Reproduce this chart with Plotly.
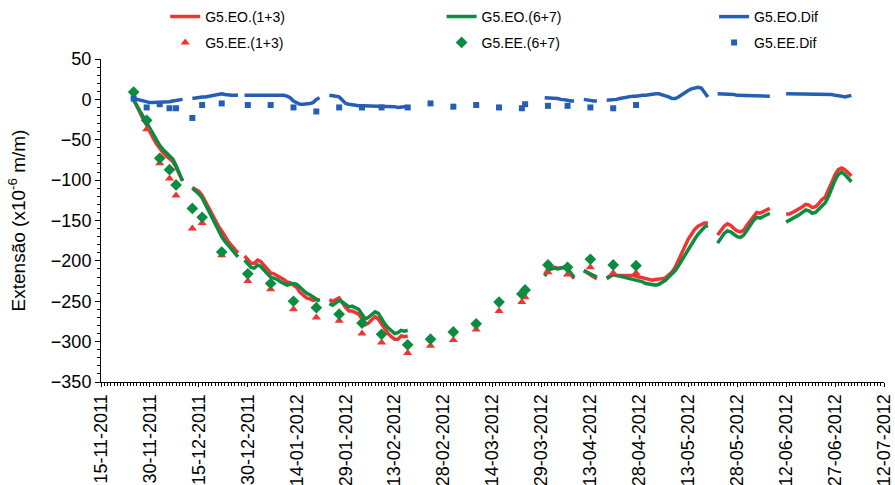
import pandas as pd
import plotly.graph_objects as go

# ---- continuous readings (EO), one value per day, segments separated by gaps ----
seg_start = ["2011-11-25", "2011-12-13", "2011-12-29", "2012-01-24", "2012-03-30",
             "2012-04-11", "2012-04-18", "2012-05-22", "2012-06-12"]
seg_len = [16, 15, 24, 25, 10, 5, 32, 17, 21]

eo13 = [0, -9, -17, -25, -32, -41, -48, -55, -61, -66, -70, -73, -77, -84, -93, -101, None,
        -109, -111, -114, -119, -127, -135, -143, -151, -157, -163, -170, -176, -181, -186, -190, None,
        -194, -198, -203, -203, -199, -201, -206, -210, -215, -216, -218, -221, -223, -226, -227, -230,
        -233, -239, -243, -246, -247, -249, -248, -248, None,
        -248, -250, -248, -246, -252, -258, -262, -262, -264, -266, -272, -279, -277, -273, -269, -272,
        -278, -284, -290, -294, -297, -297, -293, -294, -293, None,
        -217, -210, -209, -208, -209, -209, -208, -211, -217, -222, None,
        -212, -215, -217, -220, -222, None,
        -222, -220, -217, -218, -218, -217, -217, -218, -218, -219, -220, -221, -223, -223, -224, -223,
        -223, -222, -221, -218, -214, -208, -199, -189, -181, -173, -167, -161, -157, -155, -153, -153, None,
        -168, -162, -157, -154, -156, -160, -163, -164, -162, -156, -150, -145, -140, -141, -139, -137, -135, None,
        -142, -142, -140, -138, -136, -133, -130, -131, -134, -133, -129, -124, -121, -113, -103, -93, -87,
        -85, -87, -91, -95]

eo67 = [-1, -8, -15, -22, -29, -37, -44, -51, -57, -62, -66, -70, -74, -82, -92, -101, None,
        -110, -113, -117, -122, -130, -139, -148, -156, -163, -170, -176, -181, -186, -191, -195, None,
        -199, -203, -208, -209, -205, -207, -212, -216, -220, -221, -223, -226, -228, -230, -229, -228,
        -229, -233, -237, -240, -242, -245, -248, -250, None,
        -253, -255, -252, -249, -251, -254, -257, -256, -258, -260, -266, -272, -270, -266, -263, -265,
        -272, -278, -283, -287, -290, -289, -286, -287, -286, None,
        -219, -212, -210, -209, -210, -209, -208, -210, -215, -220, None,
        -212, -214, -216, -218, -220, None,
        -221, -219, -217, -218, -219, -219, -220, -221, -222, -223, -225, -226, -228, -229, -230, -230,
        -229, -227, -224, -220, -216, -212, -206, -199, -192, -185, -179, -173, -167, -162, -158, -156, None,
        -178, -172, -166, -163, -164, -167, -170, -171, -168, -162, -156, -150, -146, -147, -145, -143, -141, None,
        -152, -150, -147, -145, -143, -140, -137, -138, -141, -140, -136, -131, -128, -120, -110, -100, -93,
        -90, -93, -97, -102]

eodif = [1, 0, -2, -3, -3, -4, -4, -4, -4, -4, -3, -3, -2, -1, 0, 0, None,
         1, 2, 3, 3, 3, 4, 5, 5, 6, 7, 6, 5, 5, 5, 5, None,
         5, 5, 5, 6, 6, 6, 6, 6, 5, 5, 5, 5, 5, 4, 2, -2, -4, -6, -6, -6, -5, -4, 0, 2, None,
         5, 5, 4, 3, -1, -5, -6, -7, -7, -8, -8, -8, -9, -8, -8, -9, -8, -8, -9, -9, -9, -10, -9, -9, -9, None,
         2, 2, 1, 1, 1, 0, 0, -1, -2, -2, None,
         0, -1, -1, -2, -2, None,
         -1, -1, 0, 0, 1, 2, 3, 3, 4, 4, 5, 5, 5, 6, 6, 7, 7, 6, 4, 3, 1, 1, 3, 6, 9, 11, 13, 14, 15, 14, 9, 3, None,
         7, 7, 6, 6, 6, 6, 5, 5, 5, 5, 4, 4, 4, 4, 4, 4, 4, None,
         7, 7, 7, 7, 7, 7, 7, 7, 6, 6, 6, 6, 6, 6, 6, 5, 5, 4, 3, 4, 5]

# ---- discrete readings (EE) ----
ee_dates = ["2011-11-25", "2011-11-29", "2011-12-03", "2011-12-06", "2011-12-08", "2011-12-13",
            "2011-12-16", "2011-12-22", "2011-12-30", "2012-01-06", "2012-01-13", "2012-01-20",
            "2012-01-27", "2012-02-03", "2012-02-09", "2012-02-17", "2012-02-24", "2012-03-02",
            "2012-03-09", "2012-03-16", "2012-03-23", "2012-03-24", "2012-03-31", "2012-04-06",
            "2012-04-13", "2012-04-20", "2012-04-27"]
ee13 = [10, -37, -79, -98, -119, -160, -153, -193, -225, -235, -260, -270, -274, -290, -301, -314,
        -305, -298, -285, -262, -251, -245, -214, -217, -208, -215, -215]
ee67 = [9, -26, -73, -87, -106, -135, -146, -189, -216, -228, -250, -258, -266, -277, -291, -304,
        -297, -288, -278, -251, -241, -236, -205, -208, -198, -205, -206]
eedif = [1, -10, -6, -11, -11, -23, -7, -5, -7, -7, -10, -15, -10, -10, -10, -10, -5, -9, -7, -10,
         -11, -6, -8, -8, -10, -11, -7]

x_range = ["2011-11-15", "2012-07-12"]
y_range = [-350, 50]

# build the date axis for the continuous series (gap entry after each segment)
line_x = []
for i, (s, n) in enumerate(zip(seg_start, seg_len)):
    d = pd.date_range(s, periods=n, freq="D")
    line_x += list(d)
    if i < len(seg_start) - 1:
        line_x.append(d[-1] + pd.Timedelta(days=1))

RED = "#f03434"
GREEN = "#0c8c40"
BLUE = "#245fb4"
FONT = "Liberation Sans, Arial, sans-serif"

fig = go.Figure()
fig.add_trace(go.Scatter(x=line_x, y=eo13, mode="lines", name="G5.EO.(1+3)",
                         line=dict(color=RED, width=3.5), connectgaps=False, legend="legend"))
fig.add_trace(go.Scatter(x=line_x, y=eo67, mode="lines", name="G5.EO.(6+7)",
                         line=dict(color=GREEN, width=3.5), connectgaps=False, legend="legend2"))
fig.add_trace(go.Scatter(x=line_x, y=eodif, mode="lines", name="G5.EO.Dif",
                         line=dict(color=BLUE, width=3.5), connectgaps=False, legend="legend3"))
fig.add_trace(go.Scatter(x=ee_dates, y=ee13, mode="markers", name="G5.EE.(1+3)",
                         marker=dict(symbol="triangle-up", size=8, color=RED), legend="legend4"))
fig.add_trace(go.Scatter(x=ee_dates, y=ee67, mode="markers", name="G5.EE.(6+7)",
                         marker=dict(symbol="diamond", size=9, color=GREEN), legend="legend5"))
fig.add_trace(go.Scatter(x=ee_dates, y=eedif, mode="markers", name="G5.EE.Dif",
                         marker=dict(symbol="square", size=6, color=BLUE), legend="legend6"))

def leg(x, y):
    return dict(x=x, y=y, xanchor="left", yanchor="middle", bgcolor="rgba(0,0,0,0)",
                font=dict(family=FONT, size=14, color="black"), borderwidth=0)

row1, row2 = 1.13, 1.05
c1, c2, c3 = 0.082, 0.435, 0.783

fig.update_layout(
    width=895, height=485,
    margin=dict(l=101, r=11, t=59, b=103, autoexpand=False),
    paper_bgcolor="white", plot_bgcolor="white",
    font=dict(family=FONT, size=18, color="black"),
    showlegend=True,
    legend=leg(c1, row1), legend2=leg(c2, row1), legend3=leg(c3, row1),
    legend4=leg(c1, row2), legend5=leg(c2, row2), legend6=leg(c3, row2),
    xaxis=dict(
        type="date", range=x_range, tickmode="linear", tick0=x_range[0], dtick=15 * 86400000,
        tickformat="%d-%m-%Y", tickangle=-90, showgrid=False, zeroline=False, automargin=False,
        showline=True, linecolor="black", linewidth=1, ticks="outside", ticklen=4,
        tickcolor="black", tickfont=dict(family=FONT, size=18),
        minor=dict(dtick=86400000, ticks="outside", ticklen=3, tickcolor="black", showgrid=False),
    ),
    yaxis=dict(
        range=y_range, tickmode="linear", tick0=0, dtick=50, showgrid=False, zeroline=False,
        automargin=False,
        showline=True, linecolor="black", linewidth=1, ticks="outside", ticklen=5,
        tickcolor="black", tickfont=dict(family=FONT, size=18),
        minor=dict(dtick=10, ticks="outside", ticklen=3, tickcolor="black", showgrid=False),
        title=dict(text="Extensão (x10<sup>-6</sup> m/m)", font=dict(family=FONT, size=19), standoff=20),
    ),
)

fig.write_html("out.html")
